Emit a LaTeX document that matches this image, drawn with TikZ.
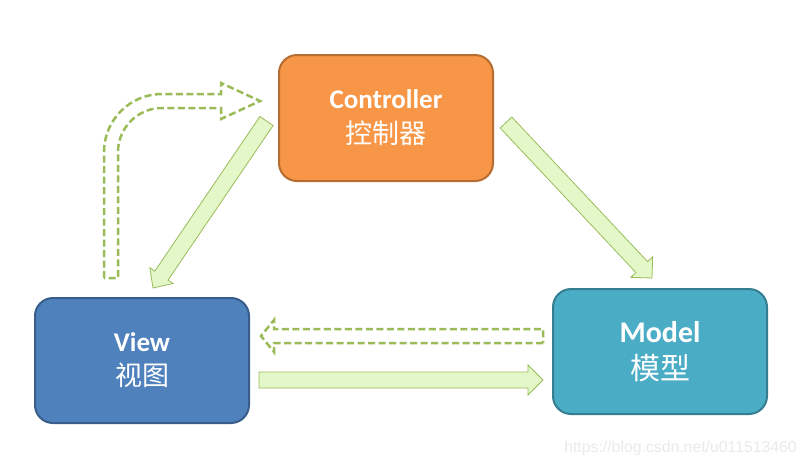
\documentclass[tikz,border=0pt]{standalone}
\usepackage{fontspec}
\setmainfont{Carlito}
\newfontfamily\cjk{Noto Sans CJK SC}
\newfontfamily\wmfont{Liberation Sans}
\usetikzlibrary{calc}
\definecolor{ctrlfill}{HTML}{F79646}
\definecolor{ctrldraw}{HTML}{B66D31}
\definecolor{viewfill}{HTML}{4F81BD}
\definecolor{viewdraw}{HTML}{385D8A}
\definecolor{modelfill}{HTML}{4BACC6}
\definecolor{modeldraw}{HTML}{357D91}
\definecolor{arrline}{HTML}{9BBB59}
\definecolor{arrfill}{HTML}{E3F7C9}
\definecolor{wmcolor}{HTML}{EAEAEA}
\newcommand\blockarrow[6][]{%
  \coordinate (ba-h) at ($(#3)!#6!(#2)$);
  \draw[#1] ($(#2)!#4!90:(#3)$) -- ($(ba-h)!#4!90:(#3)$) -- ($(ba-h)!#5!90:(#3)$) -- (#3)
    -- ($(ba-h)!#5!-90:(#3)$) -- ($(ba-h)!#4!-90:(#3)$) -- ($(#2)!#4!-90:(#3)$) -- cycle;
}
\tikzset{
  mvcbox/.style={rectangle, rounded corners=18pt, line width=2pt, minimum width=214pt,
    text=white, align=center, inner sep=0pt},
  solidarrow/.style={draw=arrline, line width=0.8pt, fill=arrfill, line join=miter},
  dashedarrow/.style={draw=arrline, line width=2.5pt, dash pattern=on 7pt off 3.5pt, line join=miter},
}
\begin{document}
\begin{tikzpicture}[x=1pt,y=-1pt]
\useasboundingbox (0,0) rectangle (807,467);
\fill[white] (0,0) rectangle (807,467);

\node[mvcbox, fill=ctrlfill, draw=ctrldraw, minimum height=126pt,
  font=\fontsize{27}{35}\selectfont] (ctrl) at (386,118)
  {\textbf{Controller}\\{\cjk 控制器}};
\node[mvcbox, fill=viewfill, draw=viewdraw, minimum height=125pt,
  font=\fontsize{27}{34}\selectfont] (view) at (142,360.5)
  {\textbf{View}\\{\cjk 视图}};
\node[mvcbox, fill=modelfill, draw=modeldraw, minimum height=125pt,
  font=\fontsize{30}{37}\selectfont] (model) at (660,351.5)
  {\textbf{Model}\\{\cjk 模型}};

% arrow end points
\coordinate (c2v-s) at (266.5,121);
\coordinate (c2v-e) at (153,288);
\coordinate (c2m-s) at (506,122.5);
\coordinate (c2m-e) at (652,278);
\coordinate (v2m-s) at (259,380);
\coordinate (v2m-e) at (543,380);
\coordinate (m2v-s) at (543,336);
\coordinate (m2v-e) at (261,336);

\blockarrow[solidarrow]{c2v-s}{c2v-e}{8pt}{14pt}{15pt}
\blockarrow[solidarrow]{c2m-s}{c2m-e}{8pt}{15pt}{15pt}
\blockarrow[solidarrow]{v2m-s}{v2m-e}{8pt}{15pt}{15pt}
\blockarrow[dashedarrow]{m2v-s}{m2v-e}{7pt}{16pt}{13pt}

% curved dashed arrow from View up to Controller
\coordinate (v2c-e) at (260,101);
\draw[dashedarrow] (104,278) -- (104,152) .. controls (104,120) and (130,94) .. (162,94)
  -- (221,94) -- (221,83) -- (v2c-e) -- (221,119) -- (221,108) -- (162,108)
  .. controls (137.7,108) and (118,127.7) .. (118,152) -- (118,278) -- cycle;

\node[anchor=east, text=wmcolor, font=\wmfont\fontsize{15.8}{18}\selectfont, inner sep=0pt] (wm) at (797,448) {https://blog.csdn.net/u011513460};
\end{tikzpicture}
\end{document}
